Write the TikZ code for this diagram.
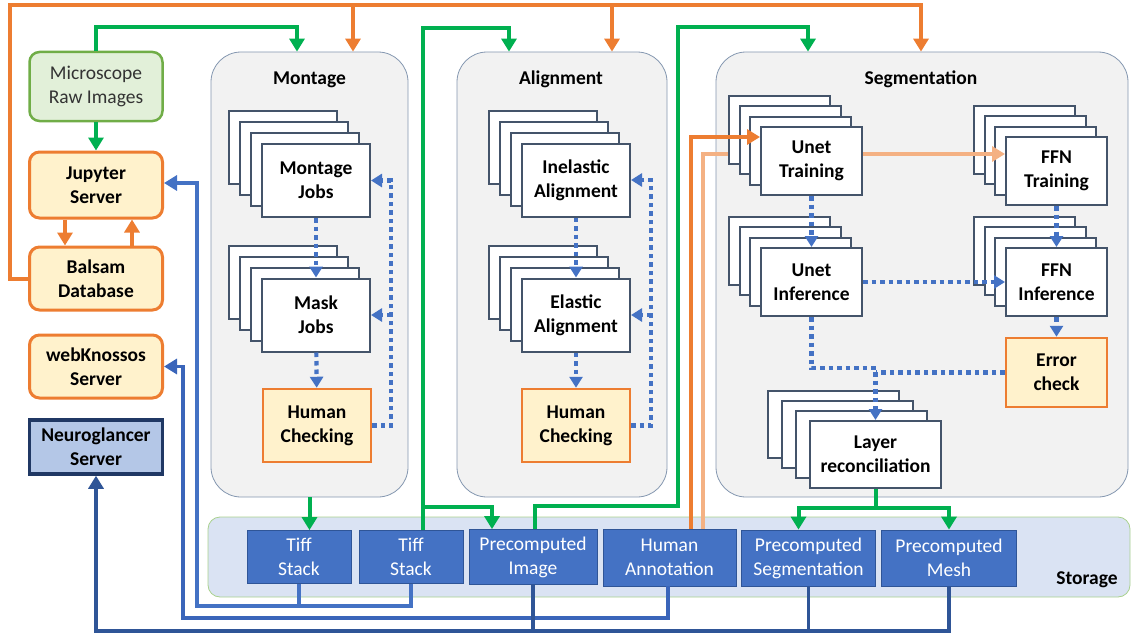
\documentclass[tikz,border=0pt]{standalone}
\usepackage{fontspec}
\setmainfont{Carlito}
\usetikzlibrary{arrows.meta}
\definecolor{flowgreen}{HTML}{00B050}
\definecolor{floworange}{HTML}{ED7D31}
\definecolor{lightorange}{HTML}{F4B183}
\definecolor{jobblue}{HTML}{4472C4}
\definecolor{midblue}{HTML}{3A65BA}
\definecolor{darkblue}{HTML}{2F5597}
\definecolor{navy}{HTML}{203864}
\definecolor{slate}{HTML}{44546A}
\definecolor{panelgray}{HTML}{F2F2F2}
\definecolor{panelline}{HTML}{8497B0}
\definecolor{cream}{HTML}{FFF2CC}
\definecolor{mint}{HTML}{E2F0D9}
\definecolor{leaf}{HTML}{70AD47}
\definecolor{storefill}{HTML}{DAE3F3}
\definecolor{storeline}{HTML}{A9D18E}
\definecolor{skyblue}{HTML}{B4C7E7}
\newcommand{\fs}{\fontsize{19.5}{24}\selectfont}
% four stacked job cards, the front one named #1
\newcommand{\jobstack}[8]{%
  \foreach \k in {3,2,1}
    \node[card, minimum width=#4, minimum height=#5] at ({#2-\k*#6}, {#3-\k*#7}) {};
  \node[card, minimum width=#4, minimum height=#5] (#1) at (#2,#3) {#8};
}

\begin{document}
\begin{tikzpicture}[x=1pt, y=-1pt, font=\fs,
    panel/.style={draw=panelline, fill=panelgray, line width=0.8pt, rounded corners=30pt},
    storearea/.style={draw=storeline, fill=storefill, line width=0.8pt, rounded corners=12pt},
    title/.style={font=\fs\bfseries},
    card/.style={draw=slate, fill=white, line width=2pt, align=center,
      font=\fs\bfseries, inner sep=0pt},
    check/.style={draw=floworange, fill=cream, line width=2.5pt, align=center,
      font=\fs\bfseries, inner sep=0pt},
    service/.style={draw=floworange, fill=cream, line width=3pt, rounded corners=10pt,
      align=center, font=\fs\bfseries, inner sep=0pt},
    raw/.style={draw=leaf, fill=mint, line width=2.5pt, rounded corners=10pt,
      align=center, text=black!80, inner sep=0pt},
    viewer/.style={draw=navy, fill=skyblue, line width=3.5pt, align=center,
      font=\fs\bfseries, inner sep=0pt},
    store/.style={draw=darkblue, fill=jobblue, line width=0.8pt, text=white,
      align=center, inner sep=0pt},
    garrow/.style={flowgreen, line width=4pt, -{Triangle[length=13pt,width=15pt]}},
    oarrow/.style={floworange, line width=4pt, -{Triangle[length=13pt,width=15pt]}},
    loarrow/.style={lightorange, line width=4pt, -{Triangle[length=13pt,width=15pt]}},
    bline/.style={line width=3.5pt},
    barrow/.style={line width=3.5pt, -{Triangle[length=13pt,width=15pt]}},
    dotline/.style={jobblue, line width=4.2pt, dash pattern=on 4.5pt off 4pt},
    dotarrow/.style={dotline, -{Triangle[length=11pt,width=13pt]}}]
  \useasboundingbox (0,0) rectangle (1138,634);

  % storage strip and the three stage panels
  \node[storearea, minimum width=922, minimum height=80] (storage) at (669,557) {};
  \node[panel, minimum width=197, minimum height=445] (montage) at (309.5,274.5) {};
  \node[panel, minimum width=210, minimum height=445] (alignment) at (562,274.5) {};
  \node[panel, minimum width=412, minimum height=445] (segmentation) at (922,274.5) {};
  \node[title] (tmont) at (309.5,79.5) {Montage};
  \node[title] (talign) at (561,79.5) {Alignment};
  \node[title] (tseg) at (921,79.5) {Segmentation};
  \node[title] (tstore) at (1087,580) {Storage};

  % services on the left
  \node[raw, minimum width=133, minimum height=69] (micro) at (96,86.5) {Microscope\\Raw Images};
  \node[service, minimum width=133, minimum height=66] (jup) at (96,185) {Jupyter\\Server};
  \node[service, minimum width=133, minimum height=63] (bal) at (96,278.5) {Balsam\\Database};
  \node[service, minimum width=133, minimum height=63] (webk) at (96,366.5) {webKnossos\\Server};
  \node[viewer, minimum width=133, minimum height=54] (neuro) at (96,447) {Neuroglancer\\Server};

  % storage items
  \node[store, minimum width=104, minimum height=53] (ts1) at (299,557) {Tiff\\Stack};
  \node[store, minimum width=104, minimum height=53] (ts2) at (411,557) {Tiff\\Stack};
  \node[store, minimum width=128, minimum height=55] (pimg) at (533,557) {Precomputed\\Image};
  \node[store, minimum width=133, minimum height=57] (hann) at (669.5,557.5) {Human\\Annotation};
  \node[store, minimum width=134, minimum height=56] (pseg) at (808.5,558) {Precomputed\\Segmentation};
  \node[store, minimum width=135, minimum height=56] (pmesh) at (949,558) {Precomputed\\Mesh};

  % job stacks and checks
  \jobstack{mj}{316}{180.5}{108}{73}{11}{11}{Montage\\Jobs}
  \jobstack{mk}{316}{315}{108}{73}{11}{11}{Mask\\Jobs}
  \jobstack{ia}{576}{180}{108}{73}{11}{11}{Inelastic\\Alignment}
  \jobstack{ea}{576}{315}{108}{73}{11}{11}{Elastic\\Alignment}
  \jobstack{ft}{1056.5}{171}{101}{68}{10.7}{10.5}{FFN\\Training}
  \jobstack{fi}{1056.5}{282}{101}{68}{10.7}{10.5}{FFN\\Inference}
  \jobstack{lr}{875.5}{454.5}{131}{67}{14}{10}{Layer\\reconciliation}
  \node[check, minimum width=108, minimum height=73] (hcm) at (317,425.5) {Human\\Checking};
  \node[check, minimum width=108, minimum height=73] (hca) at (576,425.5) {Human\\Checking};
  \node[check, minimum width=101, minimum height=69] (err) at (1056.5,372.5) {Error\\check};

  % annotation feed to FFN runs behind the Unet cards
  \draw[loarrow] ([xshift=33pt]hann.north) |- ([yshift=17pt]ft.west);
  \jobstack{ut}{811.5}{161}{101}{68}{10.7}{10.5}{Unet\\Training}
  \jobstack{ui}{811.5}{282}{101}{68}{10.7}{10.5}{Unet\\Inference}
  \draw[oarrow] ([xshift=21pt]hann.north) |- ([yshift=24pt]ut.west);

  % Balsam drives every stage
  \coordinate (otop) at (10,5);
  \coordinate (mtop) at ([xshift=43.5pt]montage.north);
  \coordinate (atop) at ([xshift=50pt]alignment.north);
  \draw[oarrow] (bal.west) -| (otop) -| ([xshift=-1pt]segmentation.north);
  \draw[oarrow] (mtop |- otop) -- (mtop);
  \draw[oarrow] (atop |- otop) -- (atop);
  \draw[oarrow] ([xshift=-31pt]jup.south) -- ([xshift=-31pt]bal.north);
  \draw[oarrow] ([xshift=36pt]bal.north) -- ([xshift=36pt]jup.south);

  % data flow (green)
  \coordinate (gturn) at (678,27);
  \draw[garrow] (micro) -- (jup);
  \draw[garrow] (micro.north) -- ++(0,-24) -| ([xshift=-12.5pt]montage.north);
  \draw[garrow] (montage.south) -- (montage.south |- ts1.north);
  \draw[garrow] ([xshift=12pt]ts2.north) |- ([xshift=-53pt,yshift=24pt]alignment.north)
    -- ([xshift=-53pt]alignment.north);
  \draw[garrow] ([xshift=12pt,yshift=23pt]ts2.north) -| ([xshift=-41pt]pimg.north);
  \draw[garrow] ([xshift=2pt]pimg.north) -- ++(0,-23) -| (gturn)
    -| ([xshift=-114pt]segmentation.north);
  \draw[garrow] (lr.south) -- ++(0,19) coordinate (gsplit) -| ([xshift=-10pt]pseg.north);
  \draw[garrow] (gsplit) -| (pmesh.north);

  % viewers read from storage (blue)
  \coordinate (bA) at (197,606);
  \coordinate (bB) at (183,618);
  \coordinate (bC) at (96,631);
  \draw[barrow, jobblue] (ts2.south) |- (bA) |- ([yshift=2pt]jup.east);
  \draw[bline, jobblue] (ts1.south) -- (ts1.south |- bA);
  \draw[barrow, midblue] ([xshift=-1.5pt]hann.south) |- (bB) |- (webk.east);
  \draw[barrow, darkblue] (pmesh.south) |- (bC) -- (neuro.south);
  \draw[bline, darkblue] (pseg.south) -- (pseg.south |- bC);
  \draw[bline, darkblue] (pimg.south) -- (pimg.south |- bC);

  % job order and feedback (dotted)
  \coordinate (fbm) at (391,0);
  \coordinate (fba) at (651,0);
  \coordinate (lrjoin) at (875.5,368);
  \draw[dotarrow] (mj) -- (mk);
  \draw[dotarrow] (mk) -- (hcm);
  \draw[dotarrow] (hcm.east) -| (mj.east -| fbm) -- (mj.east);
  \draw[dotarrow] (mk.east -| fbm) -- (mk.east);
  \draw[dotarrow] (ia) -- (ea);
  \draw[dotarrow] (ea) -- (hca);
  \draw[dotarrow] (hca.east) -| (ia.east -| fba) -- (ia.east);
  \draw[dotarrow] (ea.east -| fba) -- (ea.east);
  \draw[dotarrow] (ut) -- (ui);
  \draw[dotarrow] (ft) -- (fi);
  \draw[dotarrow] (ui) -- (fi);
  \draw[dotarrow] (fi) -- (err);
  \draw[dotarrow] (ui.south) |- (lrjoin) -- (lr.north);
  \draw[dotline] (err.west) -- (err.west -| lrjoin);
\end{tikzpicture}
\end{document}
